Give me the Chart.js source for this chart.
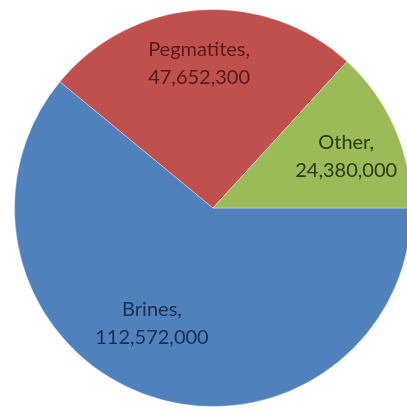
<!DOCTYPE html>
<html>
<head>
<meta charset="utf-8">
<script src="https://cdn.jsdelivr.net/npm/chart.js@4/dist/chart.umd.min.js"></script>
<style>
  html, body { margin: 0; padding: 0; background: #ffffff; overflow: hidden; }
  #wrap { position: relative; width: 412px; height: 410px; }
</style>
</head>
<body>
<div id="wrap"><canvas id="c"></canvas></div>
<script>
const categories = ["Brines", "Pegmatites", "Other"];
const values = [112572000, 47652300, 24380000];

const sliceColors = ["#4F81BD", "#C0504D", "#9BBB59"];
const textColors = ["#1b2f4d", "#561b19", "#2c3a12"];
// label placement: fraction of radius, and extra angle shift (deg)
const labelRadius = [0.66, 0.73, 0.72];
const labelAngleShift = [8, -1.5, 2.5];

const fmt = v => v.toLocaleString("en-US");

const labelPlugin = {
  id: "sliceLabels",
  afterDatasetsDraw(chart) {
    const ctx = chart.ctx;
    const meta = chart.getDatasetMeta(0);
    ctx.save();
    ctx.font = "20px Lato, 'Open Sans', sans-serif";
    ctx.textAlign = "center";
    ctx.textBaseline = "middle";
    meta.data.forEach((arc, i) => {
      const p = arc.getProps(["x", "y", "startAngle", "endAngle", "outerRadius"], true);
      const mid = (p.startAngle + p.endAngle) / 2 + labelAngleShift[i] * Math.PI / 180;
      const r = p.outerRadius * labelRadius[i];
      const cx = p.x + Math.cos(mid) * r;
      const cy = p.y + Math.sin(mid) * r;
      ctx.fillStyle = textColors[i];
      ctx.fillText(categories[i] + ",", cx, cy - 14);
      ctx.fillText(fmt(values[i]), cx, cy + 14);
    });
    ctx.restore();
  }
};

new Chart(document.getElementById("c"), {
  type: "pie",
  data: {
    labels: categories,
    datasets: [{
      data: values,
      backgroundColor: sliceColors,
      borderColor: "rgba(255,255,255,0.35)",
      borderWidth: 1
    }]
  },
  options: {
    responsive: true,
    maintainAspectRatio: false,
    animation: false,
    rotation: 90,
    layout: { padding: { left: 14, top: 9, right: 0, bottom: 3 } },
    plugins: {
      legend: { display: false },
      tooltip: { enabled: false }
    }
  },
  plugins: [labelPlugin]
});
</script>
</body>
</html>
